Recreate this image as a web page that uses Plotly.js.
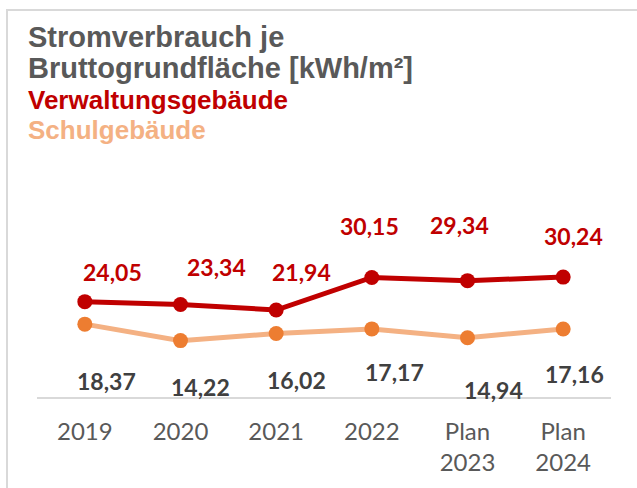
<!DOCTYPE html>
<html>
<head>
<meta charset="utf-8">
<script src="https://cdn.plot.ly/plotly-3.0.1.min.js"></script>
<style>
  html, body { margin: 0; padding: 0; background: #fff; }
  #wrap { position: relative; width: 637px; height: 488px; overflow: hidden; }
  #chart { position: absolute; left: 0; top: 0; width: 637px; height: 488px; }
  #frame { position: absolute; left: 6px; top: 9px; width: 700px; height: 600px;
           border: 2px solid #D9D9D9; pointer-events: none; }
</style>
</head>
<body>
<div id="wrap">
  <div id="chart"></div>
  <div id="frame"></div>
</div>
<script>
// ---- data ----
const categories = ['2019', '2020', '2021', '2022', 'Plan<br>2023', 'Plan<br>2024'];
const verwaltung = [24.05, 23.34, 21.94, 30.15, 29.34, 30.24];
const schule     = [18.37, 14.22, 16.02, 17.17, 14.94, 17.16];
const titleLines = ['Stromverbrauch je', 'Bruttogrundfläche [kWh/m²]'];
const seriesNames = ['Verwaltungsgebäude', 'Schulgebäude'];

// ---- label placement (styling only, pixel offsets) ----
const redShiftX = [28, 36, 25, -2, -8, 10];
const redShiftY = [30, 37, 38, 51, 56, 41];
const orShiftX  = [22, 20, 20, 23, 26, 11];
const orShiftY  = [-57, -46, -47, -43, -52, -45];

const RED = '#C00000', OR_LINE = '#F4B183', OR_MARK = '#ED7D31', GRAY = '#595959', DARK = '#404040';
const xIdx = categories.map((c, i) => i);
const fmt = v => v.toFixed(2).replace('.', ',');

const traces = [
  { x: xIdx, y: schule, type: 'scatter', mode: 'lines+markers', name: seriesNames[1],
    line: { color: OR_LINE, width: 5 }, marker: { color: OR_MARK, size: 15 }, hoverinfo: 'none' },
  { x: xIdx, y: verwaltung, type: 'scatter', mode: 'lines+markers', name: seriesNames[0],
    line: { color: RED, width: 5 }, marker: { color: RED, size: 15 }, hoverinfo: 'none' }
];

// plot area: left 37, right 611, top 171, bottom 397
const PT = 171, PB = 397, PL = 37, PW = 574;
const py = Y => (PB - Y) / (PB - PT);
const px = X => (X - PL) / PW;

const annotations = [];
verwaltung.forEach((v, i) => annotations.push({
  x: i, y: v, xref: 'x', yref: 'y', text: fmt(v), showarrow: false,
  xshift: redShiftX[i], yshift: redShiftY[i],
  font: { family: 'Lato', size: 23, color: RED, weight: 'bold' }
}));
schule.forEach((v, i) => annotations.push({
  x: i, y: v, xref: 'x', yref: 'y', text: fmt(v), showarrow: false,
  xshift: orShiftX[i], yshift: orShiftY[i],
  font: { family: 'Lato', size: 23, color: DARK, weight: 'bold' }
}));
const headerLines = [
  { text: titleLines[0], Y: 37, size: 29, color: GRAY },
  { text: titleLines[1], Y: 68, size: 29, color: GRAY },
  { text: seriesNames[0], Y: 100, size: 26, color: RED },
  { text: seriesNames[1], Y: 130, size: 26, color: OR_LINE }
];
headerLines.forEach(h => annotations.push({
  x: px(26), y: py(h.Y), xref: 'paper', yref: 'paper', xanchor: 'left', yanchor: 'middle',
  text: '<b>' + h.text + '</b>', showarrow: false,
  font: { family: 'Liberation Sans, Arial, sans-serif', size: h.size, color: h.color }
}));

const layout = {
  width: 637, height: 488,
  margin: { l: PL, r: 637 - PL - PW, t: PT, b: 488 - PB, pad: 0 },
  paper_bgcolor: '#fff', plot_bgcolor: '#fff',
  showlegend: false,
  xaxis: {
    tickmode: 'array', tickvals: xIdx, ticktext: categories, range: [-0.5, 5.5],
    showgrid: false, zeroline: false, showline: true, linecolor: '#D9D9D9', linewidth: 2,
    ticks: '', ticklabelstandoff: 12,
    tickfont: { family: 'Lato', size: 24, color: GRAY }, fixedrange: true
  },
  yaxis: {
    range: [0, 57], visible: false, showgrid: false, zeroline: false, fixedrange: true
  },
  annotations: annotations
};

Plotly.newPlot('chart', traces, layout, { staticPlot: true, displayModeBar: false });
</script>
</body>
</html>
